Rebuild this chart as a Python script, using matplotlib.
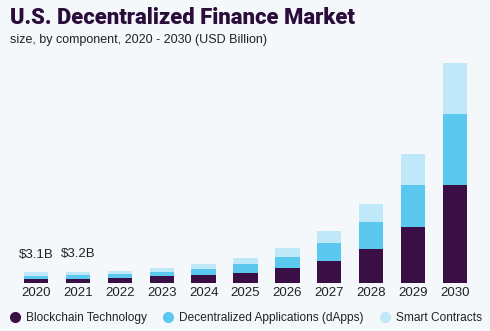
import numpy as np
import matplotlib.pyplot as plt
from matplotlib.lines import Line2D

years = ['2020', '2021', '2022', '2023', '2024', '2025', '2026', '2027', '2028', '2029', '2030']
blockchain = [1.2, 1.15, 1.55, 1.95, 2.5, 2.8, 4.35, 6.5, 10.1, 16.6, 28.9]
dapps = [0.95, 1.1, 1.15, 1.35, 1.75, 2.7, 3.3, 5.2, 7.7, 12.1, 20.8]
smart = [0.95, 0.95, 0.95, 1.15, 1.35, 1.95, 2.7, 3.5, 5.3, 9.2, 15.1]
labels = ['$3.1B', '$3.2B']
series_names = ['Blockchain Technology', 'Decentralized Applications (dApps)', 'Smart Contracts']

bg = '#f4f8fb'
c_dark = '#3a0f45'
c_mid = '#5bc8f0'
c_light = '#bfe8f8'
font = 'Liberation Sans'

plt.rcParams['font.family'] = font

fig = plt.figure(figsize=(4.9, 3.31), dpi=100, facecolor=bg)
ax = fig.add_axes([15 / 490, 1 - 283 / 331, 461 / 490, 238 / 331], facecolor=bg)

x = np.arange(len(years))
b = np.array(blockchain)
d = np.array(dapps)
s = np.array(smart)
w = 0.58
ax.bar(x, b, w, color=c_dark)
ax.bar(x, d, w, bottom=b, color=c_mid)
ax.bar(x, s, w, bottom=b + d, color=c_light)

for i, lab in enumerate(labels):
    ax.text(x[i], b[i] + d[i] + s[i] + 3.5, lab, ha='center', va='bottom', fontsize=9.5, color='#222222')

ax.set_xlim(-0.5, 10.5)
ax.set_ylim(0, 70)
ax.set_xticks(x)
ax.set_xticklabels(years, fontsize=9.5, color='#222222')
ax.tick_params(axis='x', length=0, pad=3)
ax.set_yticks([])
for sp in ax.spines.values():
    sp.set_visible(False)

fig.text(10 / 490, 1 - 18 / 331, 'U.S. Decentralized Finance Market', fontsize=15.8, fontweight='heavy',
         color='#2b0d3b', va='center', family='Roboto')
fig.text(10 / 490, 1 - 40 / 331, 'size, by component, 2020 - 2030 (USD Billion)', fontsize=9,
         color='#222222', va='center')

handles = [Line2D([], [], ls='', marker='o', markersize=7, color=c) for c in (c_dark, c_mid, c_light)]
fig.legend(handles, series_names, loc='center', bbox_to_anchor=(0.5, 1 - 318 / 331), ncol=3,
           frameon=False, fontsize=8.6, handletextpad=0.3, columnspacing=1.2, handlelength=1.2,
           labelcolor='#222222')

fig.savefig('out.png', dpi=100, facecolor=bg)
